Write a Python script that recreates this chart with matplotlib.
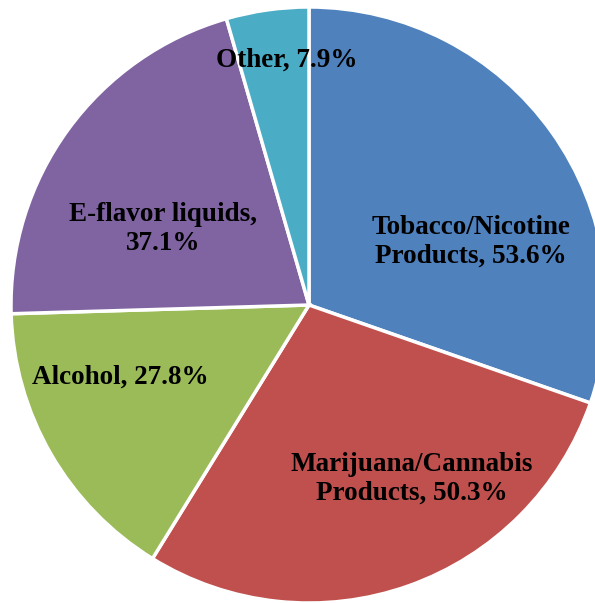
import matplotlib.pyplot as plt
import numpy as np

# share of respondents (multiple answers, so shares sum past 100)
categories = ['Tobacco/Nicotine\nProducts', 'Marijuana/Cannabis\nProducts',
              'Alcohol', 'E-flavor liquids', 'Other']
values = [53.6, 50.3, 27.8, 37.1, 7.9]
colors = ['#4F81BD', '#C0504D', '#9BBB59', '#8064A2', '#4BACC6']

W, H = 595, 603
cx, cy, r = 309, 305, 298  # pixel centre and radius of the pie

fig = plt.figure(figsize=(W / 100, H / 100), dpi=100)
ax = fig.add_axes([0, 0, 1, 1])

wedges, _ = ax.pie(values, colors=colors, startangle=90, counterclock=False,
                   radius=1, center=(0, 0), frame=True,
                   wedgeprops=dict(edgecolor='white', linewidth=2.5))
ax.set_xlim(-cx / r, (W - cx) / r)
ax.set_ylim(-(H - cy) / r, cy / r)
ax.axis('off')

# label centres in pixels (from top-left)
label_px = [(471, 242), (412, 479), (120, 377), (163, 229), (287, 60)]
for cat, v, (px, py) in zip(categories, values, label_px):
    if '\n' in cat:
        first, second = cat.split('\n')
        txt = f'{first}\n{second}, {v}%'
    elif cat == 'E-flavor liquids':
        txt = f'{cat},\n{v}%'
    else:
        txt = f'{cat}, {v}%'
    ax.text((px - cx) / r, (cy - py) / r, txt, ha='center', va='center',
            fontsize=19.5, fontweight='bold', family='Liberation Serif',
            linespacing=1.2, color='black')

fig.savefig('out.png', dpi=100)
